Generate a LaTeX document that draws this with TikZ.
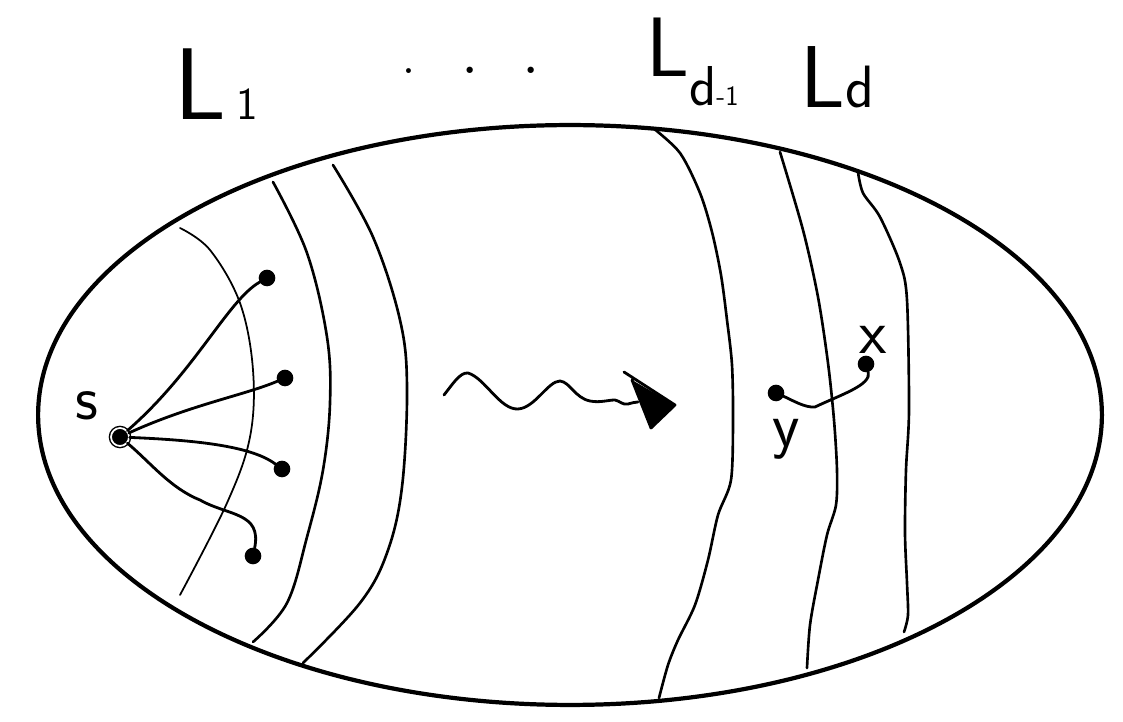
\documentclass[tikz,border=0pt]{standalone}
\begin{document}
\begin{tikzpicture}[x=0.02cm,y=-0.02cm,
  rim/.style={line width=2.4pt},
  layer/.style={line width=1.5pt, line join=round, line cap=round},
  thinlayer/.style={line width=1pt, line cap=round},
  edge/.style={line width=1.6pt, line cap=round},
  leaf/.style={circle, draw, fill=black, line width=0.9pt, inner sep=0pt, minimum size=0.3cm},
  src/.style={circle, draw, double, double distance=1pt, line width=0.8pt, fill=black, inner sep=0pt, minimum size=0.36cm},
  lbl/.style={inner sep=0pt, font=\sffamily},
]
\useasboundingbox (0,0) rectangle (1123,722);
\fill[white] (0,0) rectangle (1123,722);
% outer ellipse
\draw[rim] (570,415) ellipse [x radius=10.64cm, y radius=5.8cm];
% layers
\draw[thinlayer] plot[smooth, tension=0.6] coordinates {(180,228) (210,250) (240,303) (253,370) (250,437) (227,503) (180,595)};
\draw[layer] plot[smooth, tension=0.6] coordinates {(273,182) (307,253) (327,337) (330,403) (323,470) (307,537) (287,603) (253,642)};
\draw[layer] plot[smooth, tension=0.6] coordinates {(333,165) (373,237) (400,320) (407,387) (402,487) (387,553) (360,603) (303,663)};
\draw[layer] plot[smooth, tension=0.5] coordinates {(653,128) (680,153) (700,193) (712,232) (721,275) (727,320) (732,365) (733,420) (731,480) (718,515) (708,560) (695,605) (678,640) (668,665) (659,698)};
\draw[layer] plot[smooth, tension=0.5] coordinates {(780,152) (803,230) (818,297) (828,363) (834,420) (837,470) (836,505) (827,535) (818,580) (810,625) (807,668)};
\draw[layer] plot[smooth, tension=0.5] coordinates {(858,172) (863,193) (880,217) (900,263) (907,300) (909,410) (906,470) (905,533) (907,583) (908,615) (904,632)};
% labels on top
\node[lbl, anchor=base west, font=\sffamily\fontsize{58}{60}\selectfont] (L1) at (174,120) {L\hspace{6pt}{\fontsize{26}{26}\selectfont 1}};
\node[lbl, anchor=base, font=\fontsize{44}{44}\selectfont] (dots) at (471,74) {{\fontsize{34}{34}\selectfont .}\hspace{25pt}.\hspace{24pt}.};
\node[lbl, anchor=base west, font=\sffamily\fontsize{48}{50}\selectfont] (Ldm) at (646,77) {L\raisebox{-16pt}{{\fontsize{32}{32}\selectfont d}{\fontsize{16}{16}\selectfont -1}}};
\node[lbl, anchor=base west, font=\sffamily\fontsize{50}{52}\selectfont] (Ld) at (800,108) {L{\fontsize{34}{34}\selectfont d}};
% source and leaves
\node[src] (s) at (120,437) {};
\node[lbl, font=\sffamily\fontsize{36}{36}\selectfont, anchor=base] (slbl) at (87,420) {s};
\node[leaf] (a1) at (267,278) {};
\node[leaf] (a2) at (285,378) {};
\node[leaf] (a3) at (282,469) {};
\node[leaf] (a4) at (253,556) {};
\draw[edge] (s) .. controls (195,372) and (228,300) .. (a1);
\draw[edge] (s) .. controls (190,405) and (245,395) .. (a2);
\draw[edge] (s) .. controls (190,440) and (250,445) .. (a3);
\coordinate (k4) at (200,500);
\draw[edge] (s) .. controls (150,462) and (170,488) .. (k4) .. controls (228,516) and (262,512) .. (a4);
% wavy arrow
\coordinate (w0) at (444,395);
\coordinate (w1) at (638,402);
\draw[edge] (w0) .. controls (452,385) and (460,372) .. (468,373) .. controls (485,378) and (500,410) .. (518,409) .. controls (535,408) and (548,381) .. (560,381) .. controls (570,382) and (575,398) .. (590,401) .. controls (600,403) and (608,400) .. (615,400) .. controls (620,401) and (622,405) .. (628,404) .. controls (632,403) and (635,402) .. (w1);
\coordinate (h1) at (632,380);
\coordinate (h2) at (675,405);
\coordinate (h3) at (651,428);
\coordinate (h0) at (624,372);
\fill[line join=round] (h1) -- (h2) -- (h3) -- cycle;
\draw[edge, line join=round] (h0) -- (h2) -- (h3) -- (h1);
% y and x
\node[leaf] (y) at (776,393) {};
\node[leaf] (x) at (866,364) {};
\coordinate (kx) at (815,407);
\draw[edge] (y) .. controls (792,400) and (805,408) .. (kx) .. controls (840,395) and (872,385) .. (x);
\node[lbl, font=\sffamily\fontsize{36}{36}\selectfont, anchor=base] (xlbl) at (873,354) {x};
\node[lbl, font=\sffamily\fontsize{36}{36}\selectfont, anchor=base] (ylbl) at (786,447) {y};
\end{tikzpicture}
\end{document}
